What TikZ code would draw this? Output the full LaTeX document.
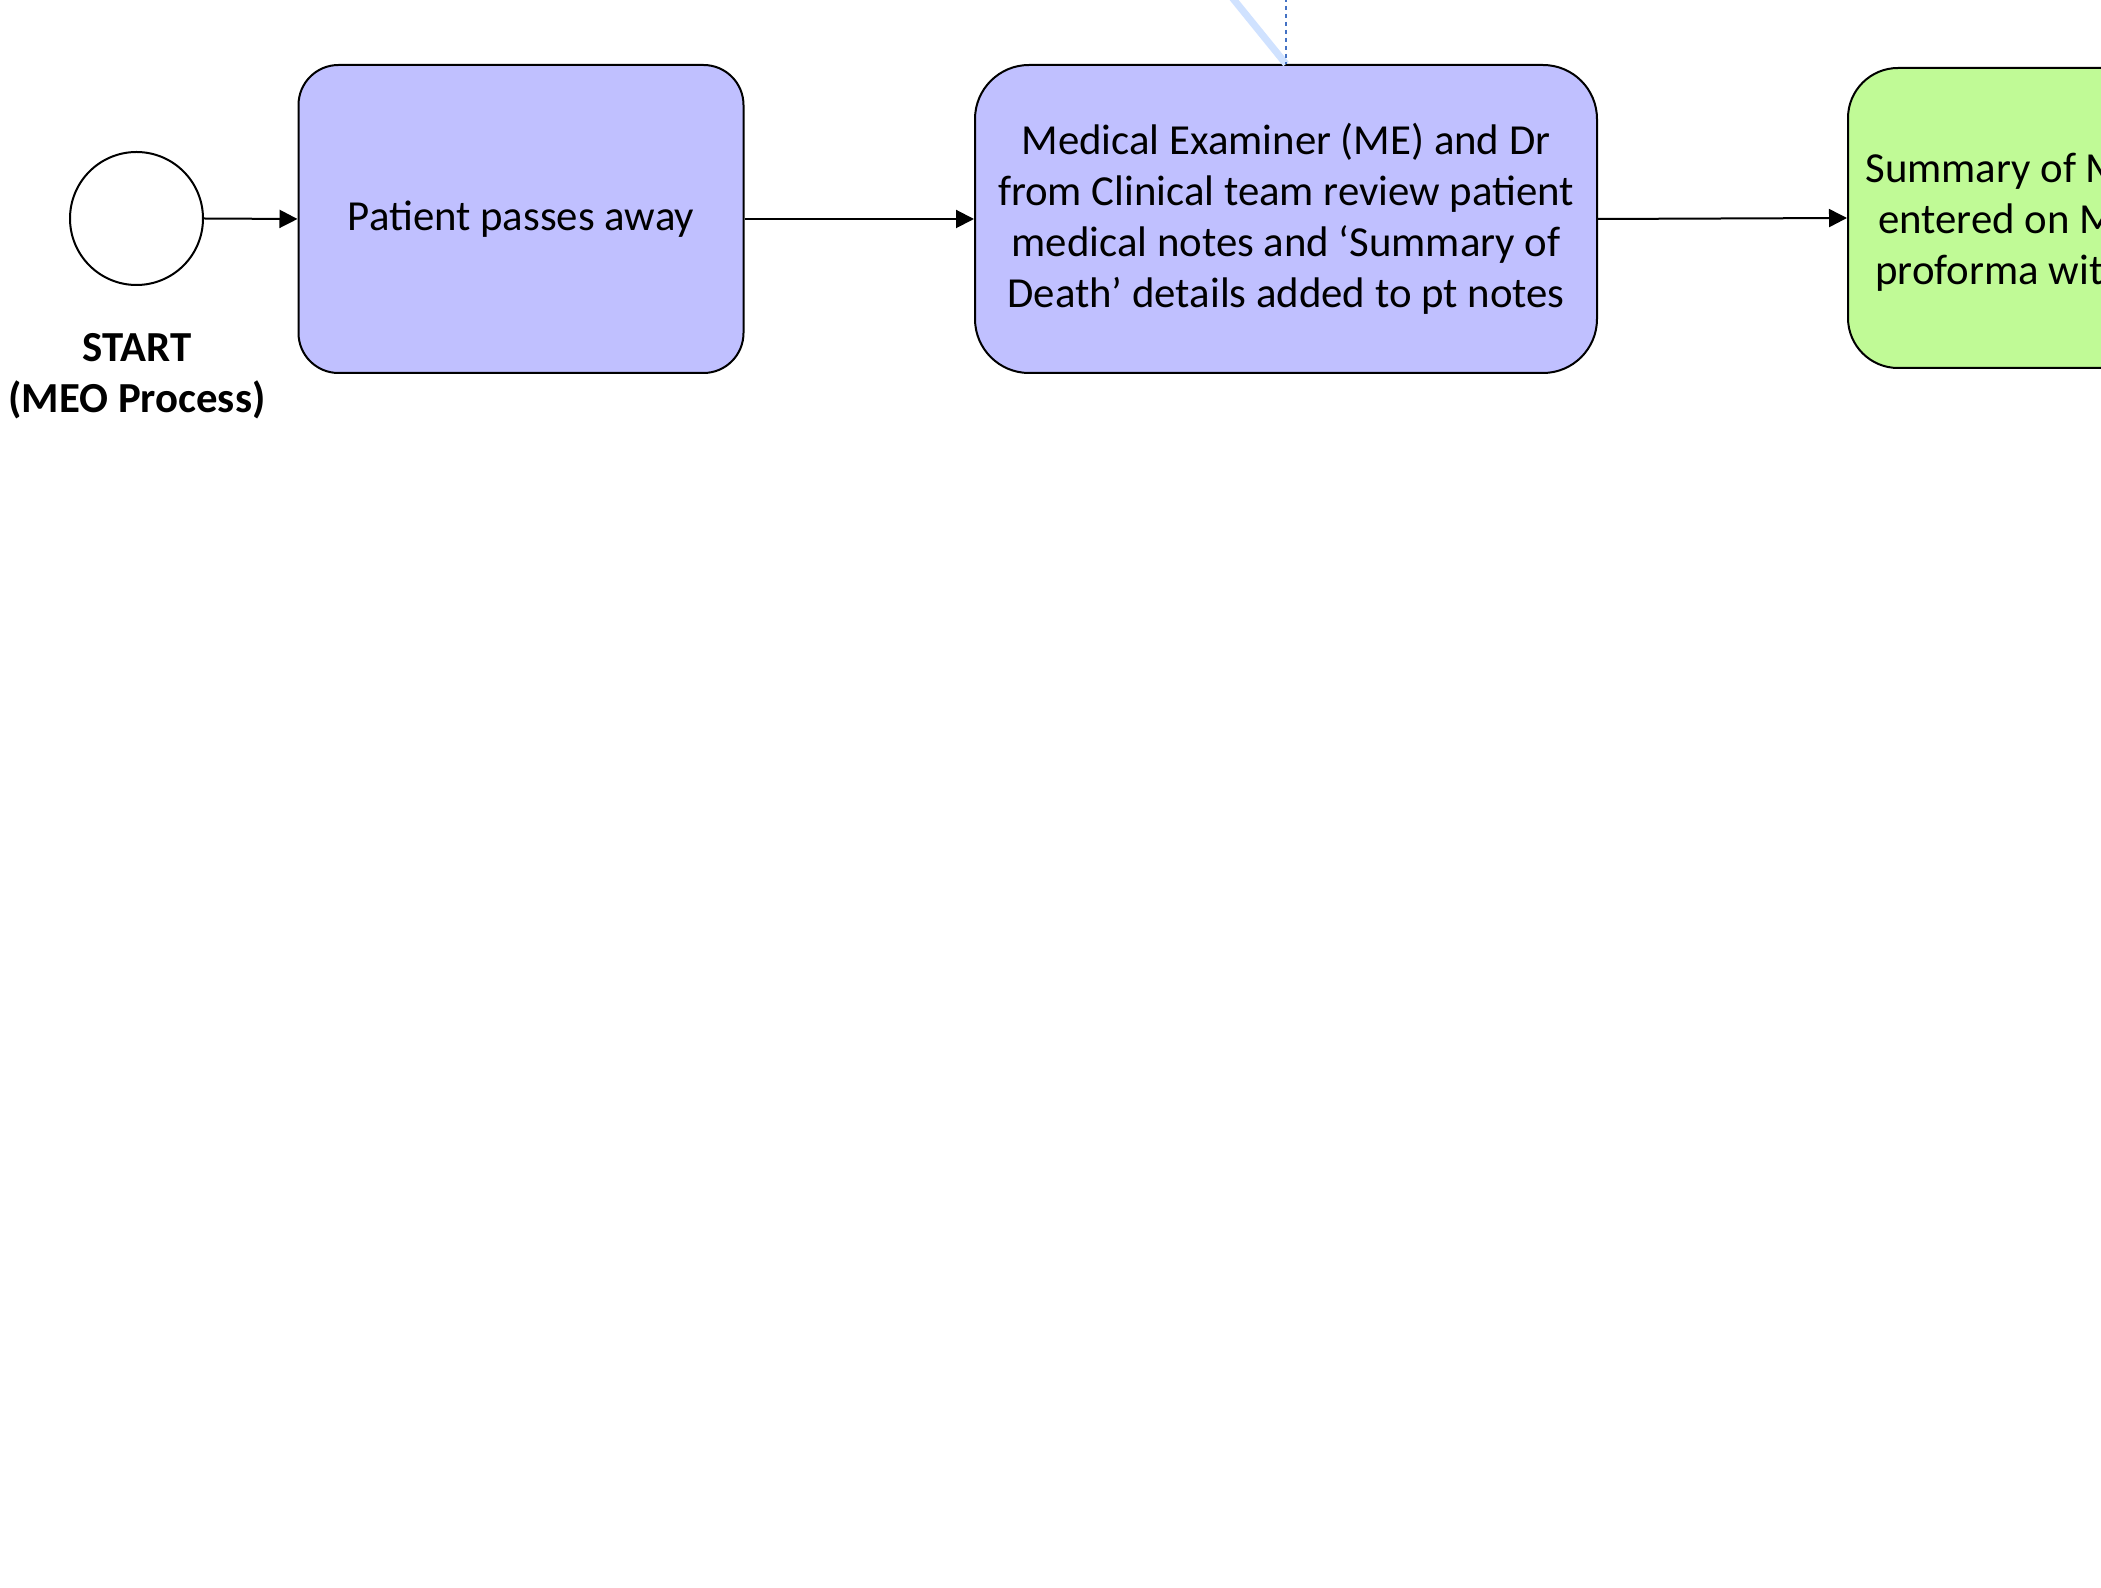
\documentclass[tikz,border=0pt]{standalone}
\usepackage{fontspec}
\setmainfont{Carlito}
\usetikzlibrary{arrows.meta,calc}
\definecolor{taskblue}{RGB}{192,192,255}
\definecolor{taskgreen}{RGB}{192,250,150}
\definecolor{assocblue}{RGB}{68,114,196}
\definecolor{paleblue}{RGB}{208,226,255}
\begin{document}
\begin{tikzpicture}[x=0.5pt,y=-0.5pt,
  every node/.style={font=\fontsize{21.4pt}{25.5pt}\selectfont},
  task/.style={draw=black,line width=1pt,rounded corners=#1,align=center,inner sep=0pt},
  flow/.style={draw=black,line width=1pt,-{Triangle[length=9pt,width=9pt]}},
  startev/.style={circle,draw=black,line width=1pt,minimum size=66.5pt,inner sep=0pt},
  greenline/.style={anchor=base west,inner sep=0pt}
]
\clip (0,0) rectangle (2101,1588);
\fill[white] (0,0) rectangle (2101,1588);

% start event and its label
\node[startev] (start) at (136.5,218.5) {};
\node[font=\fontsize{21.4pt}{25.5pt}\selectfont\bfseries,align=center] (startlbl) at (137,376) {START\\(MEO Process)};

% tasks
\node[task=20pt,fill=taskblue,minimum width=222.5pt,minimum height=154pt] (t1) at (521,219) {Patient passes away};
\node[task=27pt,fill=taskblue,minimum width=311pt,minimum height=154pt] (t2) at (1286,219)
  {Medical Examiner (ME) and Dr\\from Clinical team review patient\\medical notes and ‘Summary of\\Death’ details added to pt notes};
\node[task=25pt,fill=taskgreen,minimum width=300pt,minimum height=150pt] (t3) at (2148,218) {};
\node[greenline] (g1) at (1865,183) {Summary of ME review};
\node[greenline] (g2) at (1878,234) {entered on ME};
\node[greenline] (g3) at (1875,285) {proforma with};

% association lines entering from above
\coordinate (assoctop) at (t2.north |- 0,-10);
\coordinate (paletop) at (1226,-10);
\draw[paleblue,line width=3.5pt] (paletop) -- (t2.north);
\draw[assocblue,line width=1.2pt,dash pattern=on 2pt off 2pt] (assoctop) -- (t2.north);

% sequence flows
\draw[flow] (start.east) -- (t1.west);
\draw[flow] (t1.east) -- (t2.west);
\draw[flow] (t2.east) -- (t3.west);
\end{tikzpicture}
\end{document}
